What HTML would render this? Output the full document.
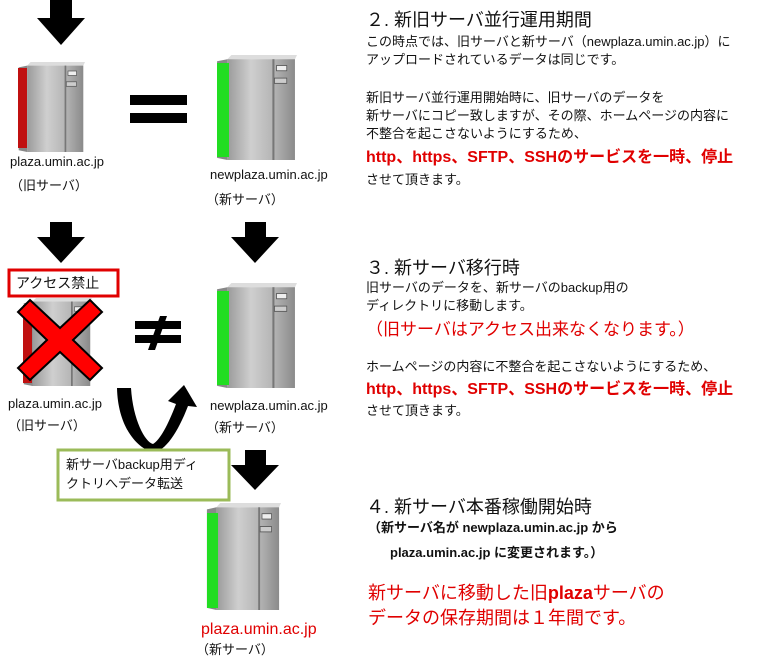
<!DOCTYPE html>
<html><head><meta charset="utf-8"><style>
body{margin:0;width:774px;height:668px;background:#fff;position:relative;overflow:hidden;font-family:"Liberation Sans","Noto Sans CJK JP",sans-serif;color:#111}
.t{position:absolute;white-space:nowrap;font-size:13px;line-height:16px}
.h{font-size:18px;line-height:22px}
.r{color:#e00000;font-size:16px;line-height:20px;font-weight:bold}
.rn{color:#e00000;font-size:18px;line-height:22px}
svg{position:absolute;left:0;top:0}
</style></head><body>
<svg width="774" height="668">
<defs>
<linearGradient id="g" x1="0" x2="1"><stop offset="0" stop-color="#9a9a9a"/><stop offset=".35" stop-color="#cfcfcf"/><stop offset=".7" stop-color="#b3b3b3"/><stop offset="1" stop-color="#8a8a8a"/></linearGradient>
<symbol id="srv" viewBox="0 0 80 100" preserveAspectRatio="none">
<polygon points="12,4 16,0 80,0 78,4" fill="#ddd"/>
<rect x="12" y="4" width="66" height="96" fill="url(#g)"/>
<rect x="56" y="4" width="2" height="96" fill="#777"/>
<rect x="60" y="10" width="10" height="5" fill="#eee" stroke="#555" stroke-width=".8"/>
<rect x="58" y="22" width="12" height="5" fill="#ccc" stroke="#555" stroke-width=".8"/>
<polygon points="2,6 12,4 12,100 2,98" fill="#888"/>
</symbol>
</defs>
<use href="#srv" x="17" y="62" width="68" height="90"/><rect x="18" y="68" width="9" height="80" fill="#c01010"/>
<use href="#srv" x="215" y="55" width="82" height="105"/><rect x="217" y="63" width="12" height="94" fill="#22dd22"/>
<use href="#srv" x="22" y="298" width="70" height="88"/><rect x="23" y="305" width="9" height="78" fill="#c01010"/>
<use href="#srv" x="215" y="283" width="82" height="105"/><rect x="217" y="291" width="12" height="94" fill="#22dd22"/>
<use href="#srv" x="205" y="503" width="76" height="107"/><rect x="207" y="513" width="11" height="95" fill="#22dd22"/>
<g fill="#000">
<polygon points="50,0 72,0 72,18 85,18 61,45 37,18 50,18"/>
<polygon points="50,222 72,222 72,237 85,237 61,263 37,237 50,237"/>
<polygon points="245,222 266,222 266,237 279,237 255,263 231,237 245,237"/>
<polygon points="245,450 266,450 266,465 279,465 255,490 231,465 245,465"/>
<rect x="130" y="95" width="57" height="10"/><rect x="130" y="113" width="57" height="10"/>
<rect x="135" y="321" width="46" height="8"/><rect x="135" y="335" width="46" height="8"/>
<polygon points="160,316 167,316 155,350 148,350"/>
<path d="M117,388 L131,388 C133,420 145,442 153,444 C160,440 168,425 176,404 L168,401 L184,385 L197,407 L188,406 C178,432 165,452 153,452 C140,450 118,430 117,388Z"/>
</g>
<path d="M30,300 L60,328 L90,300 L102,312 L73,340 L102,368 L90,380 L60,352 L30,380 L18,368 L47,340 L18,312Z" fill="#f00" stroke="#000" stroke-width="2"/>
<rect x="9" y="270" width="109" height="26" fill="#fff" stroke="#e00000" stroke-width="3"/>
<rect x="58" y="450" width="171" height="50" fill="#fff" stroke="#9bbb59" stroke-width="3"/>
</svg>
<div class="t" style="left:16px;top:275px;font-size:14px">アクセス禁止</div>
<div class="t" style="left:66px;top:457px">新サーバbackup用ディ</div>
<div class="t" style="left:66px;top:476px">クトリへデータ転送</div>

<div class="t" style="left:10px;top:154px">plaza.umin.ac.jp</div>
<div class="t" style="left:10px;top:178px">（旧サーバ）</div>
<div class="t" style="left:210px;top:167px">newplaza.umin.ac.jp</div>
<div class="t" style="left:206px;top:192px">（新サーバ）</div>
<div class="t" style="left:8px;top:396px">plaza.umin.ac.jp</div>
<div class="t" style="left:8px;top:418px">（旧サーバ）</div>
<div class="t" style="left:210px;top:398px">newplaza.umin.ac.jp</div>
<div class="t" style="left:206px;top:420px">（新サーバ）</div>
<div class="t" style="left:201px;top:620px;font-size:16px;line-height:20px;color:#e00000">plaza.umin.ac.jp</div>
<div class="t" style="left:196px;top:642px">（新サーバ）</div>

<div class="t h" style="left:366px;top:9px">２. 新旧サーバ並行運用期間</div>
<div class="t" style="left:366px;top:34px">この時点では、旧サーバと新サーバ（newplaza.umin.ac.jp）に</div>
<div class="t" style="left:366px;top:52px">アップロードされているデータは同じです。</div>
<div class="t" style="left:366px;top:90px">新旧サーバ並行運用開始時に、旧サーバのデータを</div>
<div class="t" style="left:366px;top:108px">新サーバにコピー致しますが、その際、ホームページの内容に</div>
<div class="t" style="left:366px;top:126px">不整合を起こさないようにするため、</div>
<div class="t r" style="left:366px;top:148px">http、https、SFTP、SSHのサービスを一時、停止</div>
<div class="t" style="left:366px;top:172px">させて頂きます。</div>

<div class="t h" style="left:366px;top:257px">３. 新サーバ移行時</div>
<div class="t" style="left:366px;top:280px">旧サーバのデータを、新サーバのbackup用の</div>
<div class="t" style="left:366px;top:298px">ディレクトリに移動します。</div>
<div class="t rn" style="left:366px;top:319px;font-size:17px">（旧サーバはアクセス出来なくなります。）</div>
<div class="t" style="left:366px;top:359px">ホームページの内容に不整合を起こさないようにするため、</div>
<div class="t r" style="left:366px;top:380px">http、https、SFTP、SSHのサービスを一時、停止</div>
<div class="t" style="left:366px;top:403px">させて頂きます。</div>

<div class="t h" style="left:366px;top:496px">４. 新サーバ本番稼働開始時</div>
<div class="t" style="left:368px;top:520px;font-weight:bold">（新サーバ名が newplaza.umin.ac.jp から</div>
<div class="t" style="left:390px;top:545px;font-weight:bold">plaza.umin.ac.jp に変更されます。）</div>
<div class="t rn" style="left:368px;top:582px">新サーバに移動した旧<b>plaza</b>サーバの</div>
<div class="t rn" style="left:368px;top:607px">データの保存期間は１年間です。</div>
</body></html>
